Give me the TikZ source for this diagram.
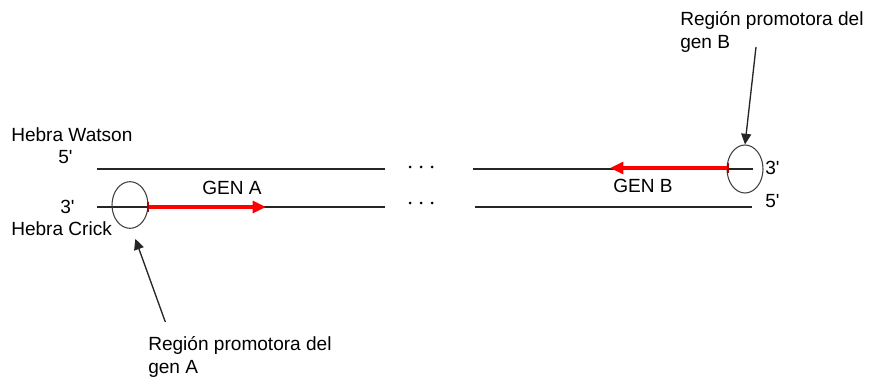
\documentclass[tikz,border=0pt]{standalone}
\usepackage{fontspec}
\setmainfont{Liberation Sans}
\usetikzlibrary{arrows.meta,positioning,shapes.geometric}
\definecolor{genred}{HTML}{FF0000}
\definecolor{tickred}{HTML}{B00000}

\begin{document}
\begin{tikzpicture}[x=0.75pt,y=-0.75pt]

\tikzset{lbl/.style={font=\fontsize{14.3}{17.3}\selectfont,inner sep=0pt,align=left},
	strand/.style={line width=1pt,black!85},
	prom/.style={draw=black!75,line width=0.8pt,ellipse,inner sep=0pt,minimum width=27pt,minimum height=35pt},
	gen/.style={draw=genred,line width=2.3pt,-{Triangle[length=10pt,width=9pt]}},
	point/.style={line width=1pt,black!85,-{Triangle[length=8pt,width=7.5pt]}}}

\useasboundingbox (0,0) rectangle (872,378);

% strand ends
\coordinate (wL1) at (97,169);  \coordinate (wL2) at (385,169);
\coordinate (wR1) at (473,169); \coordinate (wR2) at (753,169);
\coordinate (cL1) at (97,207);  \coordinate (cL2) at (385,207);
\coordinate (cR1) at (475,207); \coordinate (cR2) at (752,207);

\draw[strand] (wL1)--(wL2);
\draw[strand] (wR1)--(wR2);
\draw[strand] (cL1)--(cL2);
\draw[strand] (cR1)--(cR2);

\foreach \x in {410,421,432}{
	\fill (\x,167) circle (1.5);
	\fill (\x,203) circle (1.5);
}

%===================================================================
\node[prom] (promA) at (130,205) {};
\node[prom,minimum height=36pt] (promB) at (745,169) {};

\coordinate (gA0) at (148,207); \coordinate (gA1) at (266,207);
\coordinate (gB0) at (728,168); \coordinate (gB1) at (610,168);
\draw[gen] (gA0)--(gA1);
\draw[gen] (gB0)--(gB1);
\draw[tickred,line width=1.5pt] ([yshift=4pt]gA0)--([yshift=-4pt]gA0);
\draw[tickred,line width=1.5pt] ([yshift=4pt]gB0)--([yshift=-4pt]gB0);

\node[lbl,anchor=base] (genA) at (232,195) {GEN A};
\node[lbl,anchor=base] (genB) at (643,192) {GEN B};

%===================================================================
\node[lbl,anchor=base west] (watson) at (11,142) {Hebra Watson};
\node[lbl,anchor=base west] (w5) at (58,163) {5\textquotesingle};
\node[lbl,anchor=base west] (c3) at (60,213) {3\textquotesingle};
\node[lbl,anchor=base west] (crick) at (11,235) {Hebra Crick};
\node[lbl,anchor=base west] (r3) at (765,175) {3\textquotesingle};
\node[lbl,anchor=base west] (r5) at (765,207) {5\textquotesingle};

\node[lbl,anchor=north west] (lblB) at (680,11) {Región promotora del\\gen B};
\node[lbl,anchor=north west] (lblA) at (148,336) {Región promotora del\\gen A};

\draw[point] ([xshift=57pt,yshift=-27pt]lblB.north west)--(promB.north);
\draw[point] ([xshift=13pt,yshift=10.5pt]lblA.north west)--([xshift=4pt,yshift=-7.5pt]promA.south);

\end{tikzpicture}
\end{document}
